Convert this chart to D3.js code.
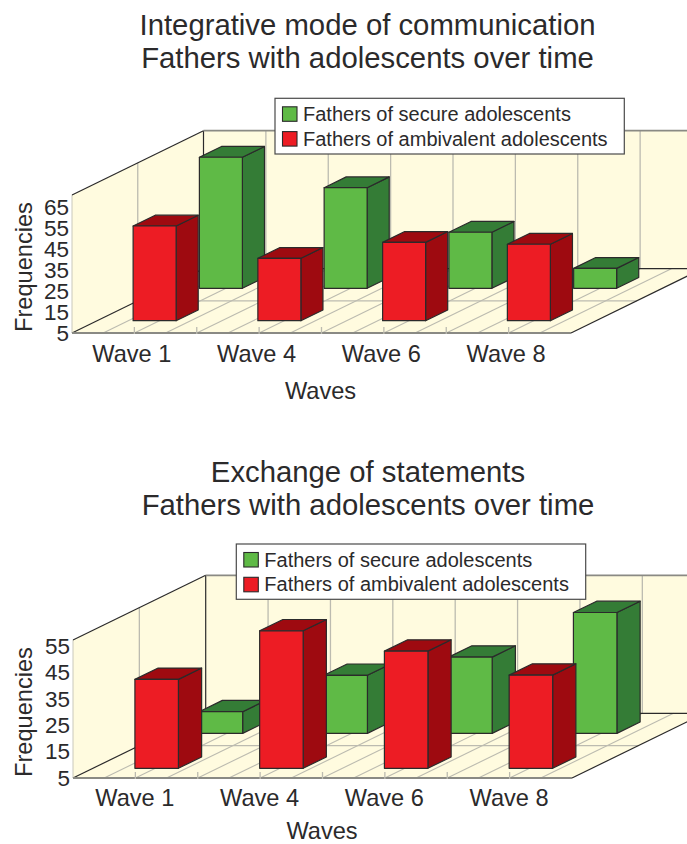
<!DOCTYPE html>
<html><head><meta charset="utf-8">
<script src="https://cdn.jsdelivr.net/npm/d3@7"></script>
<style>
html,body{margin:0;padding:0;background:#fff;overflow:hidden}
svg{display:block}
text{font-family:"Liberation Sans",Arial,sans-serif;fill:#2b2a2b}
</style></head><body>
<svg id="c" width="687" height="844"></svg>
<script>
const categories = ["Wave 1","Wave 4","Wave 6","Wave 8"];
const seriesNames = ["Fathers of secure adolescents","Fathers of ambivalent adolescents"];
const secureA = [67.4,52.9,31.7,14.5];
const ambivalentA = [50.1,34.7,42.3,41.4];
const secureB = [13.2,27,33.9,50.8];
const ambivalentB = [38.7,57.1,49.4,40.3];
const ticksA = [5,15,25,35,45,55,65];
const ticksB = [5,15,25,35,45,55];
const titleA = ["Integrative mode of communication","Fathers with adolescents over time"];
const titleB = ["Exchange of statements","Fathers with adolescents over time"];

const COL = {wall:"#fffbdf",grid:"#bcbbb0",edge:"#2b2a2b",axis:"#8a8a84",
  red:"#ed1c24",redD:"#9e0a10",green:"#5fba46",greenD:"#347c36"};
const svg = d3.select("#c");

function chart(o){
  const g = svg.append("g");
  const x = d3.scaleBand().domain(categories).range([o.x0,o.x1]);
  const y = d3.scaleLinear().domain(o.yDomain).range([o.yBase,o.yTop]);
  const w = x.bandwidth();
  const wallH = o.yBase-o.yTop;
  const P = (px,h,d)=>[px+d*o.dx, o.yBase-h-d*o.dy];
  const poly = pts=>"M"+pts.map(p=>p.join(",")).join("L")+"Z";
  const seg = (a,b,c,sw)=>g.append("line").attr("x1",a[0]).attr("y1",a[1]).attr("x2",b[0]).attr("y2",b[1]).attr("stroke",c).attr("stroke-width",sw);

  g.append("path").attr("fill",COL.wall).attr("d",poly([P(o.x0,0,0),P(o.x0,wallH,0),P(o.x0,wallH,1),P(o.x0,0,1)]));
  g.append("path").attr("fill",COL.wall).attr("d",poly([P(o.x0,0,1),P(o.x0,wallH,1),P(o.x1,wallH,1),P(o.x1,0,1)]));
  g.append("path").attr("fill",COL.wall).attr("d",poly([P(o.x0,0,0),P(o.x1,0,0),P(o.x1,0,1),P(o.x0,0,1)]));

  d3.range(1,16).forEach(i=>{
    const px=o.x0+i*w/4;
    seg(P(px,0,0),P(px,0,1),COL.grid,1.1);
  });
  d3.range(1,8).forEach(i=>{
    const px=o.x0+i*w/2;
    seg(P(px,0,1),P(px,wallH,1),COL.grid,1.3);
  });
  seg(P(o.x0,0,.5),P(o.x0,wallH,.5),COL.grid,1.3);
  seg(P(o.x0,0,.5),P(o.x1,0,.5),COL.grid,1.3);
  seg(P(o.x0,0,0),P(o.x0,wallH,0),"#c9c8bc",1);

  seg(P(o.x0,wallH,0),P(o.x0,wallH,1),COL.edge,1.2);
  seg(P(o.x0,0,0),P(o.x0,0,1),COL.edge,1.2);
  seg(P(o.x0,0,1),P(o.x0,wallH,1),COL.edge,1.2);
  seg(P(o.x1,0,0),P(o.x1,0,1),COL.edge,1.2);
  seg(P(o.x0,0,1),P(o.x1,0,1),COL.edge,1.2);
  seg(P(o.x0,wallH,1),P(o.x1,wallH,1),COL.axis,1.8);
  seg(P(o.x0,0,0),P(o.x1,0,0),COL.axis,1.8);
  d3.range(1,8).forEach(i=>{
    const px=o.x0+i*w/2;
    g.append("line").attr("x1",px).attr("x2",px).attr("y1",o.yBase-6).attr("y2",o.yBase+1)
      .attr("stroke",COL.grid).attr("stroke-width",1.3);
  });

  const bw=o.barW;
  const bar=(cat,val,r)=>{
    const px=x(cat)+r.off, h=y(o.yDomain[0])-y(val), d0=r.d, d1=r.d+o.barD;
    const b=g.append("g").attr("stroke",COL.edge).attr("stroke-width",1.2).attr("stroke-linejoin","round");
    b.append("path").attr("fill",r.dark).attr("d",poly([P(px+bw,0,d0),P(px+bw,0,d1),P(px+bw,h,d1),P(px+bw,h,d0)]));
    b.append("path").attr("fill",r.dark).attr("d",poly([P(px,h,d0),P(px+bw,h,d0),P(px+bw,h,d1),P(px,h,d1)]));
    b.append("path").attr("fill",r.fill).attr("d",poly([P(px,0,d0),P(px+bw,0,d0),P(px+bw,h,d0),P(px,h,d0)]));
  };
  categories.forEach((c,i)=>bar(c,o.secure[i],{off:o.offS,d:o.dS,fill:COL.green,dark:COL.greenD}));
  categories.forEach((c,i)=>bar(c,o.amb[i],{off:o.offA,d:o.dA,fill:COL.red,dark:COL.redD}));

  const ya=g.append("g").attr("transform",`translate(${o.x0},0)`)
    .call(d3.axisLeft(y).tickValues(o.ticks).tickSize(0).tickPadding(3).tickFormat(d3.format("d")));
  ya.select(".domain").remove();
  ya.selectAll("text").style("font-size","22.5px").style("font-family",'"Liberation Sans"');
  const xa=g.append("g").attr("transform",`translate(${o.xTickDx},${o.yBase})`)
    .call(d3.axisBottom(x).tickSize(0).tickPadding(o.xTickPad));
  xa.select(".domain").remove();
  xa.selectAll("text").style("font-size","23.6px").style("font-family",'"Liberation Sans"');

  g.append("text").attr("transform",`translate(${o.yLabelX},${o.yLabelY}) rotate(-90)`)
    .attr("text-anchor","middle").attr("font-size",23.6).text("Frequencies");
  g.append("text").attr("x",o.xLabelX).attr("y",o.xLabelY).attr("text-anchor","middle")
    .attr("font-size",23.6).text("Waves");

  o.title.forEach((t,i)=>g.append("text").attr("x",o.titleX).attr("y",o.titleY+i*32.5)
    .attr("text-anchor","middle").attr("font-size",29.3).text(t));

  const L=o.legend;
  g.append("rect").attr("x",L.x).attr("y",L.y).attr("width",L.w).attr("height",L.h)
    .attr("fill","#fff").attr("stroke","#4a4a4a").attr("stroke-width",1.2);
  [COL.green,COL.red].forEach((c,i)=>{
    const sy=L.y+8.5+i*24.8;
    g.append("rect").attr("x",L.x+7.5).attr("y",sy).attr("width",14.5).attr("height",14.5)
      .attr("fill",c).attr("stroke",COL.edge).attr("stroke-width",1.1);
    g.append("text").attr("x",L.x+28).attr("y",sy+14).attr("font-size",20).text(seriesNames[i]);
  });
}

chart({title:titleA,titleX:367.5,titleY:35,x0:72,x1:571,yBase:333,yTop:195,yDomain:[5,70.7],
  dx:131.5,dy:64.3,barW:43,barD:.168,secure:secureA,amb:ambivalentA,ticks:ticksA,
  offS:36,dS:.695,offA:36,dA:.191,xTickDx:-2.5,xTickPad:12,
  yLabelX:31.5,yLabelY:267,xLabelX:320.5,xLabelY:399,
  legend:{x:275,y:98.3,w:349.3,h:55.7}});
chart({title:titleB,titleX:368,titleY:482,x0:73,x1:572,yBase:778,yTop:640,yDomain:[5,57.3],
  dx:132.7,dy:64.7,barW:43.5,barD:.175,secure:secureB,amb:ambivalentB,ticks:ticksB,
  offS:34.6,dS:.69,offA:42,dA:.15,xTickDx:-0.5,xTickPad:11,
  yLabelX:31.5,yLabelY:712,xLabelX:322,xLabelY:839,
  legend:{x:236.3,y:544,w:349.4,h:55.3}});
</script>
</body></html>
